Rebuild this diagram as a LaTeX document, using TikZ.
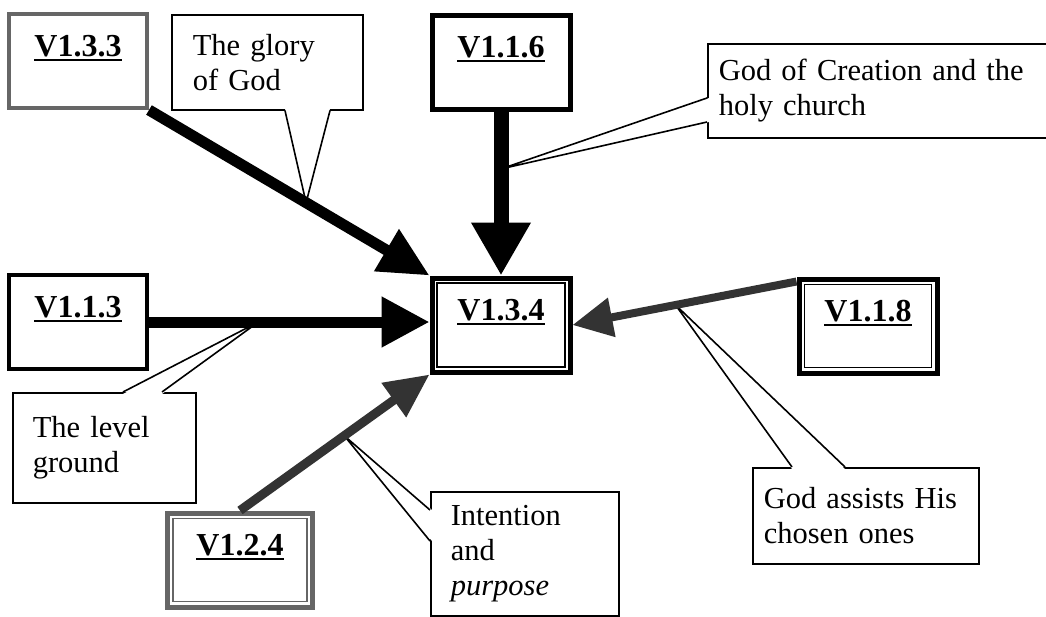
\documentclass[tikz,border=0pt]{standalone}
\usepackage{fontspec}
\setmainfont{Liberation Serif}
\usetikzlibrary{arrows.meta,calc}

% bold verse label with a heavy underline
\newcommand{\versetag}[1]{\setbox0=\hbox{\bfseries #1}\rlap{\raisebox{-5pt}{\rule{\wd0}{1.8pt}}}\box0}

\begin{document}
\begin{tikzpicture}[
      x=1pt, y=-1pt,
      font=\fontsize{32pt}{35pt}\selectfont,
      verse/.style={draw, line width=4pt, inner sep=0pt, minimum width=138pt,
                    text height=42pt, text depth=52pt},
      grainy/.style={draw=black!60},
      note/.style={draw, line width=1.6pt, fill=white, anchor=north west,
                   align=left, inner ysep=0pt, font=\fontsize{30.5pt}{35pt}\selectfont},
      ptr/.style={line width=1.6pt, line join=miter},
      arr/.style={line join=miter},
    ]
    \useasboundingbox (0,0) rectangle (1046,616);

    % verses
    \node[verse, grainy] (v133) at (78,61)  {\versetag{V1.3.3}};
    \node[verse, line width=5pt] (v116) at (501,62)  {\versetag{V1.1.6}};
    \node[verse] (v113) at (78,322) {\versetag{V1.1.3}};
    \node[verse, line width=5pt] (v134) at (501,325) {\versetag{V1.3.4}};
    \node[verse, line width=5pt] (v118) at (868,326) {\versetag{V1.1.8}};
    \node[verse, grainy, line width=5pt, minimum width=145pt] (v124) at (240,560) {\versetag{V1.2.4}};
    \draw[line width=1.5pt] ([shift={(7.5pt,-7.5pt)}]v134.north west) rectangle ([shift={(-7.5pt,7.5pt)}]v134.south east);
    \draw[line width=1.5pt] ([shift={(8pt,-8pt)}]v118.north west) rectangle ([shift={(-8pt,8pt)}]v118.south east);
    \draw[line width=1.5pt, black!60] ([shift={(8pt,-8pt)}]v124.north west) rectangle ([shift={(-8pt,8pt)}]v124.south east);

    % themes
    \node[note, minimum width=191pt, minimum height=95pt, text width=149pt, inner xsep=21pt]
      (glory) at (171,14) {The glory\\of God};
    \node[note, minimum width=360pt, minimum height=94pt, text width=338pt, inner xsep=11pt]
      (creation) at (707,43) {God of Creation and the\\holy church};
    \node[note, minimum width=183pt, minimum height=110pt, text width=143pt, inner xsep=20pt]
      (level) at (12,392) {The level\\ground};
    \node[note, minimum width=188pt, minimum height=124pt, text width=148pt, inner xsep=20pt]
      (intent) at (430,491) {Intention\\and\\\textit{purpose}};
    \node[note, minimum width=226pt, minimum height=96pt, text width=204pt, inner xsep=11pt]
      (assists) at (752,467) {God assists His\\chosen ones};

    % where the pointers touch the links
    \coordinate (gloryTip)    at ($(v133.south east)!.56!(v134.north west)$);
    \coordinate (creationTip) at ($(v116.south)!.35!(v134.north)$);
    \coordinate (levelTip)    at ($(v113.east)!.39!(v113.east -| v134.west)$);
    \coordinate (intentTip)   at ($(v124.north)!.55!(v134.south west)$);
    \coordinate (assistsTip)  at ($([yshift=-5pt]v118.north west)!.54!(v134.east)$);

    % pointers
    \fill[white] ([shift={(114pt,2pt)}]glory.south west) -- (gloryTip) -- ([shift={(159pt,2pt)}]glory.south west) -- cycle;
    \draw[ptr] ([xshift=114pt]glory.south west) -- (gloryTip) -- ([xshift=159pt]glory.south west);
    \fill[white] ([shift={(2pt,-55pt)}]creation.north west) -- (creationTip) -- ([shift={(2pt,-79pt)}]creation.north west) -- cycle;
    \draw[ptr] ([yshift=-55pt]creation.north west) -- (creationTip) -- ([yshift=-79pt]creation.north west);
    \fill[white] ([shift={(111pt,-2pt)}]level.north west) -- (levelTip) -- ([shift={(150pt,-2pt)}]level.north west) -- cycle;
    \draw[ptr] ([xshift=111pt]level.north west) -- (levelTip) -- ([xshift=150pt]level.north west);
    \fill[white] ([shift={(2pt,-19pt)}]intent.north west) -- (intentTip) -- ([shift={(2pt,-50pt)}]intent.north west) -- cycle;
    \draw[ptr] ([yshift=-19pt]intent.north west) -- (intentTip) -- ([yshift=-50pt]intent.north west);
    \fill[white] ([shift={(40pt,-2pt)}]assists.north west) -- (assistsTip) -- ([shift={(93pt,-2pt)}]assists.north west) -- cycle;
    \draw[ptr] ([xshift=40pt]assists.north west) -- (assistsTip) -- ([xshift=93pt]assists.north west);

    % links into V1.3.4
    \draw[arr, line width=11pt, -{Triangle[length=50pt, width=46pt]}] (v133.south east) -- (v134.north west);
    \draw[arr, line width=15pt, -{Triangle[length=53pt, width=56pt]}] (v116.south) -- (v134.north);
    \draw[arr, line width=11pt, -{Triangle[length=48pt, width=48pt]}] (v113.east) -- (v113.east -| v134.west);
    \draw[arr, black!80, line width=9pt, -{Triangle[length=44pt, width=40pt]}] (v124.north) -- (v134.south west);
    \draw[arr, black!80, line width=8pt, -{Triangle[length=40pt, width=38pt]}] ([yshift=-5pt]v118.north west) -- (v134.east);
  \end{tikzpicture}
\end{document}
